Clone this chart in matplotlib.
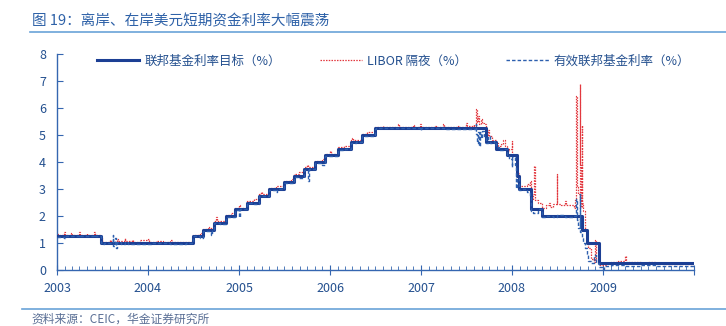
import matplotlib
import matplotlib.pyplot as plt
import matplotlib.dates as mdates
import pandas as pd
from matplotlib.lines import Line2D

matplotlib.use("Agg")

plt.rcParams["font.family"] = ["Noto Sans CJK SC", "DejaVu Sans"]

# Fed funds target rate (change dates and new level, %)
target_dates = [
    "2003-01-01", "2003-06-25", "2004-06-30", "2004-08-10", "2004-09-21",
    "2004-11-10", "2004-12-14", "2005-02-02", "2005-03-22", "2005-05-03",
    "2005-06-30", "2005-08-09", "2005-09-20", "2005-11-01", "2005-12-13",
    "2006-01-31", "2006-03-28", "2006-05-10", "2006-06-29", "2007-09-18",
    "2007-10-31", "2007-12-11", "2008-01-22", "2008-01-30", "2008-03-18",
    "2008-04-30", "2008-10-08", "2008-10-29", "2008-12-16", "2009-12-31",
]
target_values = [
    1.25, 1.00, 1.25, 1.50, 1.75,
    2.00, 2.25, 2.50, 2.75, 3.00,
    3.25, 3.50, 3.75, 4.00, 4.25,
    4.50, 4.75, 5.00, 5.25, 4.75,
    4.50, 4.25, 3.50, 3.00, 2.25,
    2.00, 1.50, 1.00, 0.25, 0.25,
]

# USD overnight LIBOR (%)
libor_dates = [
    "2003-01-01", "2003-01-10", "2003-01-31", "2003-02-03", "2003-02-28",
    "2003-03-03", "2003-03-31", "2003-04-02", "2003-04-30", "2003-05-02",
    "2003-05-30", "2003-06-03", "2003-06-25", "2003-06-30", "2003-07-02",
    "2003-07-31", "2003-08-04", "2003-08-29", "2003-09-03", "2003-09-30",
    "2003-10-02", "2003-10-31", "2003-11-04", "2003-12-01", "2003-12-31",
    "2004-01-05", "2004-02-02", "2004-03-01", "2004-03-31", "2004-04-05",
    "2004-05-03", "2004-06-01", "2004-06-30", "2004-07-15", "2004-07-30",
    "2004-08-10", "2004-08-31", "2004-09-03", "2004-09-21", "2004-09-30",
    "2004-10-04", "2004-11-10", "2004-11-30", "2004-12-14", "2004-12-31",
    "2005-01-05", "2005-02-02", "2005-02-28", "2005-03-22", "2005-03-31",
    "2005-04-04", "2005-05-03", "2005-05-31", "2005-06-30", "2005-07-29",
    "2005-08-09", "2005-08-31", "2005-09-20", "2005-09-30", "2005-10-04",
    "2005-11-01", "2005-11-30", "2005-12-13", "2005-12-30", "2006-01-04",
    "2006-01-31", "2006-02-28", "2006-03-28", "2006-03-31", "2006-04-04",
    "2006-05-10", "2006-05-31", "2006-06-29", "2006-07-31", "2006-08-02",
    "2006-09-29", "2006-10-03", "2006-11-30", "2006-12-04", "2006-12-29",
    "2007-01-03", "2007-02-28", "2007-03-02", "2007-03-30", "2007-04-03",
    "2007-05-31", "2007-06-04", "2007-06-29", "2007-07-03", "2007-07-31",
    "2007-08-02", "2007-08-09", "2007-08-10", "2007-08-13", "2007-08-16",
    "2007-08-22", "2007-08-28", "2007-09-04", "2007-09-12", "2007-09-18",
    "2007-09-28", "2007-10-02", "2007-10-15", "2007-10-31", "2007-11-05",
    "2007-11-20", "2007-11-28", "2007-12-03", "2007-12-11", "2007-12-20",
    "2007-12-31", "2008-01-03", "2008-01-10", "2008-01-22", "2008-01-30",
    "2008-02-15", "2008-02-29", "2008-03-10", "2008-03-14", "2008-03-18",
    "2008-03-26", "2008-03-31", "2008-04-02", "2008-04-15", "2008-04-30",
    "2008-05-15", "2008-05-30", "2008-06-03", "2008-06-16", "2008-06-30",
    "2008-07-02", "2008-07-15", "2008-07-31", "2008-08-04", "2008-08-29",
    "2008-09-05", "2008-09-12", "2008-09-15", "2008-09-16", "2008-09-17",
    "2008-09-22", "2008-09-29", "2008-09-30", "2008-10-01", "2008-10-03",
    "2008-10-08", "2008-10-09", "2008-10-10", "2008-10-14", "2008-10-20",
    "2008-10-29", "2008-11-03", "2008-11-14", "2008-11-26", "2008-12-01",
    "2008-12-05", "2008-12-16", "2008-12-31", "2009-01-15", "2009-02-02",
    "2009-02-20", "2009-03-02", "2009-03-31", "2009-04-02", "2009-05-01",
    "2009-06-01", "2009-07-01", "2009-08-03", "2009-09-01", "2009-10-01",
    "2009-11-02", "2009-12-01", "2009-12-31",
]
libor_values = [
    1.35, 1.30, 1.40, 1.30, 1.38,
    1.30, 1.42, 1.30, 1.38, 1.29,
    1.40, 1.30, 1.08, 1.20, 1.05,
    1.12, 1.05, 1.15, 1.06, 1.18,
    1.06, 1.12, 1.05, 1.10, 1.15,
    1.05, 1.06, 1.05, 1.10, 1.04,
    1.04, 1.05, 1.30, 1.30, 1.38,
    1.52, 1.60, 1.55, 1.80, 1.95,
    1.80, 2.02, 2.10, 2.30, 2.40,
    2.30, 2.55, 2.62, 2.80, 2.90,
    2.82, 3.04, 3.10, 3.30, 3.38,
    3.55, 3.62, 3.80, 3.90, 3.80,
    4.05, 4.12, 4.30, 4.40, 4.30,
    4.55, 4.60, 4.80, 4.90, 4.80,
    5.04, 5.10, 5.30, 5.35, 5.30,
    5.40, 5.30, 5.36, 5.30, 5.42,
    5.30, 5.35, 5.30, 5.40, 5.30,
    5.35, 5.30, 5.45, 5.32, 5.40,
    5.35, 5.86, 5.96, 5.50, 5.70,
    5.40, 5.60, 5.45, 5.40, 5.00,
    5.20, 4.95, 4.80, 4.70, 4.60,
    4.65, 4.80, 4.60, 4.40, 4.50,
    4.78, 4.30, 4.25, 3.60, 3.10,
    3.10, 3.20, 3.15, 3.30, 2.60,
    2.80, 3.85, 2.60, 2.50, 2.30,
    2.40, 2.50, 2.35, 2.45, 3.55,
    2.45, 2.40, 2.55, 2.40, 2.40,
    2.30, 2.60, 3.11, 6.44, 3.06,
    2.80, 2.57, 6.88, 3.90, 2.35,
    5.38, 5.09, 2.50, 2.18, 1.50,
    1.10, 0.80, 0.40, 0.30, 1.10,
    0.35, 0.17, 0.20, 0.25, 0.30,
    0.30, 0.32, 0.52, 0.30, 0.28,
    0.27, 0.28, 0.27, 0.24, 0.22,
    0.22, 0.21, 0.22,
]

# Effective fed funds rate (%)
effective_dates = [
    "2003-01-01", "2003-01-31", "2003-02-03", "2003-03-31", "2003-04-01",
    "2003-05-30", "2003-06-02", "2003-06-25", "2003-07-01", "2003-07-10",
    "2003-08-12", "2003-08-13", "2003-08-20", "2003-08-25", "2003-08-28",
    "2003-09-15", "2003-09-30", "2003-10-15", "2003-11-15", "2003-12-31",
    "2004-01-15", "2004-03-31", "2004-06-01", "2004-06-30", "2004-07-30",
    "2004-08-10", "2004-09-10", "2004-09-13", "2004-09-21", "2004-10-15",
    "2004-11-10", "2004-11-30", "2004-12-14", "2004-12-31", "2005-01-03",
    "2005-02-02", "2005-03-01", "2005-03-22", "2005-04-15", "2005-05-03",
    "2005-05-31", "2005-06-01", "2005-06-30", "2005-08-09", "2005-08-31",
    "2005-09-20", "2005-10-06", "2005-10-07", "2005-11-01", "2005-11-30",
    "2005-12-13", "2006-01-31", "2006-03-01", "2006-03-28", "2006-04-15",
    "2006-05-10", "2006-06-29", "2006-07-05", "2006-12-29", "2007-01-02",
    "2007-04-02", "2007-08-09", "2007-08-10", "2007-08-13", "2007-08-16",
    "2007-08-20", "2007-08-24", "2007-08-30", "2007-09-05", "2007-09-10",
    "2007-09-18", "2007-09-28", "2007-10-05", "2007-10-20", "2007-10-31",
    "2007-11-10", "2007-11-25", "2007-12-11", "2007-12-20", "2007-12-31",
    "2008-01-02", "2008-01-15", "2008-01-18", "2008-01-22", "2008-01-30",
    "2008-02-15", "2008-03-03", "2008-03-14", "2008-03-18", "2008-03-25",
    "2008-04-15", "2008-04-30", "2008-05-15", "2008-06-15", "2008-07-01",
    "2008-08-01", "2008-09-01", "2008-09-16", "2008-09-17", "2008-09-22",
    "2008-09-29", "2008-09-30", "2008-10-01", "2008-10-08", "2008-10-14",
    "2008-10-20", "2008-10-29", "2008-11-03", "2008-11-14", "2008-11-26",
    "2008-12-02", "2008-12-16", "2008-12-31", "2009-01-05", "2009-02-02",
    "2009-03-02", "2009-04-01", "2009-06-01", "2009-08-03", "2009-10-01",
    "2009-12-31",
]
effective_values = [
    1.24, 1.20, 1.27, 1.22, 1.26,
    1.21, 1.25, 1.00, 0.95, 1.00,
    1.30, 0.90, 1.20, 0.80, 1.02,
    0.95, 1.05, 0.98, 0.98, 0.95,
    1.00, 0.98, 1.00, 1.25, 1.20,
    1.45, 1.30, 1.50, 1.75, 1.70,
    1.98, 1.95, 2.22, 1.96, 2.25,
    2.48, 2.45, 2.73, 2.75, 2.98,
    2.90, 3.00, 3.22, 3.45, 3.40,
    3.72, 3.30, 3.75, 3.98, 3.90,
    4.24, 4.46, 4.50, 4.72, 4.75,
    4.97, 5.22, 5.25, 5.20, 5.26,
    5.24, 5.40, 5.02, 4.70, 5.10,
    4.60, 5.10, 4.90, 5.15, 4.95,
    4.70, 4.95, 4.72, 4.78, 4.55,
    4.45, 4.50, 4.25, 4.10, 3.80,
    4.20, 3.90, 3.05, 3.40, 2.95,
    3.00, 2.90, 2.70, 2.20, 2.10,
    2.25, 1.95, 2.00, 1.95, 2.05,
    1.95, 2.00, 2.64, 1.85, 1.55,
    1.56, 2.80, 1.40, 1.20, 1.00,
    0.80, 0.60, 0.35, 0.25, 0.55,
    0.25, 0.12, 0.05, 0.15, 0.20,
    0.18, 0.16, 0.20, 0.16, 0.13,
    0.12,
]

year_labels = ["2003", "2004", "2005", "2006", "2007", "2008", "2009", ""]

axis_blue = "#3566b0"
text_blue = "#24508f"

fig = plt.figure(figsize=(7.26, 3.26), dpi=100)
ax = fig.add_axes([57 / 726, 1 - 270 / 326, 637 / 726, 216 / 326])

t_target = pd.to_datetime(target_dates)
t_libor = pd.to_datetime(libor_dates)
t_eff = pd.to_datetime(effective_dates)

ax.plot(t_libor, libor_values, drawstyle="steps-post", color="#e2383f",
        linestyle=(0, (1.2, 1.0)), linewidth=0.9, zorder=2)
ax.plot(t_target, target_values, drawstyle="steps-post", color="#1c3f94",
        linewidth=2.2, zorder=3)
ax.plot(t_eff, effective_values, drawstyle="steps-post", color="#2d5fae",
        linestyle=(0, (2.5, 1.5)), linewidth=1.0, zorder=4)

# axes styling
ax.set_xlim(pd.Timestamp("2003-01-01"), pd.Timestamp("2010-01-01"))
ax.set_ylim(0, 8)
ax.set_yticks(range(0, 9))
for side in ["top", "right"]:
    ax.spines[side].set_visible(False)
for side in ["left", "bottom"]:
    ax.spines[side].set_color(axis_blue)
    ax.spines[side].set_linewidth(1.0)

year_ticks = pd.to_datetime([f"{y}-01-01" for y in range(2003, 2011)])
ax.set_xticks(year_ticks)
ax.set_xticklabels(year_labels)
ax.xaxis.set_minor_locator(mdates.MonthLocator())
ax.tick_params(axis="x", which="major", direction="inout", length=7,
               color=axis_blue, labelcolor=text_blue, labelsize=9, pad=5)
ax.tick_params(axis="x", which="minor", direction="in", length=3,
               color=axis_blue)
ax.tick_params(axis="y", which="major", direction="in", length=4,
               color=axis_blue, labelcolor=text_blue, labelsize=9, pad=8)

# legend across the top of the plot area
handles = [
    Line2D([], [], color="#1c3f94", linewidth=2.2),
    Line2D([], [], color="#e2383f", linestyle=(0, (1.2, 1.0)), linewidth=0.9),
    Line2D([], [], color="#2d5fae", linestyle=(0, (2.5, 1.5)), linewidth=1.0),
]
labels = ["联邦基金利率目标（%）", "LIBOR 隔夜（%）", "有效联邦基金利率（%）"]
fig.legend(handles, labels, loc="center left",
           bbox_to_anchor=(97 / 726, 1 - 61 / 326), ncol=3, frameon=False,
           fontsize=9, handlelength=3.4, handletextpad=0.4, columnspacing=3.1,
           borderpad=0, borderaxespad=0, labelcolor=text_blue)

# title and source
fig.text(32 / 726, 1 - 21 / 326, "图 19：离岸、在岸美元短期资金利率大幅震荡",
         fontsize=10.5, color="#2f62a8", va="center", ha="left")
fig.add_artist(Line2D([30 / 726, 1.0], [1 - 32 / 326, 1 - 32 / 326],
                      color="#6aa3d8", linewidth=1.2))
fig.add_artist(Line2D([22 / 726, 1.0], [1 - 309 / 326, 1 - 309 / 326],
                      color="#6aa3d8", linewidth=1.2))
fig.text(31 / 726, 1 - 319 / 326, "资料来源：CEIC，华金证券研究所",
         fontsize=8.5, color="#5a6f95", va="center", ha="left")

fig.savefig("out.png", dpi=100)
